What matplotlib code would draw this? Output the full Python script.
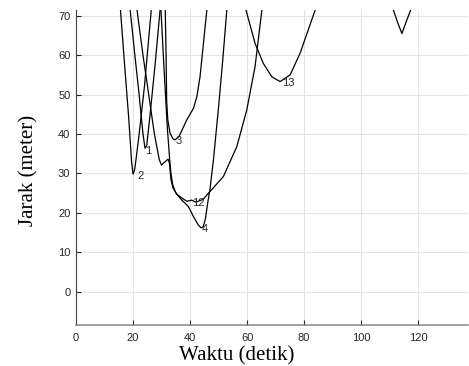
import matplotlib
matplotlib.use("Agg")
import matplotlib.pyplot as plt

# jarak antar kapal (meter) terhadap waktu (detik)
t1 = [19.0, 20.5, 22.0, 23.5, 24.2, 24.8, 26.0, 27.8, 29.5]
d1 = [71.5, 61.0, 51.0, 40.0, 36.4, 37.0, 45.0, 58.0, 71.5]

t2 = [15.6, 17.0, 18.5, 19.5, 20.0, 20.6, 22.0, 24.0, 26.4]
d2 = [71.5, 58.0, 44.0, 33.0, 29.8, 31.0, 39.0, 52.0, 71.5]

t3 = [31.3, 31.6, 31.8, 32.2, 33.0, 34.0, 34.7, 36.1, 38.8, 41.2, 42.4, 43.5, 44.7, 45.9]
d3 = [71.5, 60.0, 48.6, 43.5, 40.2, 38.8, 38.5, 39.3, 43.5, 46.5, 49.5, 54.5, 63.0, 71.5]

t4 = [29.8, 31.0, 32.0, 32.8, 33.3, 33.9, 35.0, 37.0, 39.4, 41.2, 42.9, 43.8, 44.6,
      45.4, 46.2, 47.0, 48.2, 49.9, 51.5, 52.9]
d4 = [71.5, 55.0, 42.0, 34.0, 30.0, 27.2, 25.0, 23.3, 21.6, 19.0, 16.9, 16.2, 16.4,
      18.5, 22.5, 26.0, 33.4, 46.0, 59.0, 71.5]

t12 = [21.4, 23.5, 25.5, 27.5, 29.2, 30.0, 31.0, 32.3, 32.8, 33.3, 34.0, 35.5, 37.6,
       39.0, 40.5, 42.0, 43.5, 44.6, 47.0, 51.7, 56.4, 59.9, 62.8, 65.2]
d12 = [71.5, 60.0, 50.0, 40.0, 33.5, 32.1, 32.8, 33.6, 32.5, 28.5, 26.3, 24.6, 23.5,
       22.9, 23.2, 22.7, 23.1, 23.4, 25.4, 29.2, 36.8, 46.1, 57.1, 71.5]

t13 = [59.6, 62.8, 65.7, 68.7, 71.6, 75.1, 78.6, 83.9]
d13 = [71.5, 63.0, 57.9, 54.5, 53.3, 55.0, 60.5, 71.5]

t14 = [111.3, 112.8, 114.3, 115.8, 117.4]
d14 = [71.5, 68.3, 65.5, 68.5, 71.5]

label_text = ["1", "2", "3", "4", "12", "13"]
label_t = [25.4, 22.5, 36.1, 45.3, 42.8, 74.4]
label_d = [35.7, 29.3, 38.1, 15.9, 22.5, 53.0]

xticks = [0, 20, 40, 60, 80, 100, 120]
yticks = [0, 10, 20, 30, 40, 50, 60, 70]

fig = plt.figure(figsize=(4.69, 3.66), dpi=100)
ax = fig.add_axes([0.162, 0.112, 0.836, 0.861])

for t, d in [(t1, d1), (t2, d2), (t3, d3), (t4, d4), (t12, d12), (t13, d13), (t14, d14)]:
    ax.plot(t, d, color="black", lw=0.9, clip_on=True)

for s, x, y in zip(label_text, label_t, label_d):
    ax.text(x, y, s, ha="center", va="center", fontsize=8,
            family="Liberation Sans", color="#262626")

ax.set_xlim(0, 137.5)
ax.set_ylim(-8.5, 71.5)
ax.set_xticks(xticks)
ax.set_yticks(yticks)
ax.grid(True, color="#e3e3e3", lw=0.8)
ax.set_axisbelow(True)

for side in ["top", "right"]:
    ax.spines[side].set_visible(False)
ax.spines["left"].set_color("#444444")
ax.spines["left"].set_linewidth(0.8)
ax.spines["bottom"].set_color("#888888")
ax.spines["bottom"].set_linewidth(1.1)

ax.tick_params(axis="both", direction="in", length=3.5, width=0.8,
               colors="#262626", labelsize=8)
ax.tick_params(axis="x", pad=6)
ax.tick_params(axis="y", pad=4)
for lab in ax.get_xticklabels() + ax.get_yticklabels():
    lab.set_family("Liberation Sans")

ax.set_xlabel("Waktu (detik)", family="Liberation Serif", fontsize=15)
ax.set_ylabel("Jarak (meter)", family="Liberation Serif", fontsize=15)
ax.xaxis.set_label_coords((236.5 - 76) / 392.0, -0.068)
ax.yaxis.set_label_coords(-0.095, 0.49)

fig.savefig("out.png", dpi=100)
